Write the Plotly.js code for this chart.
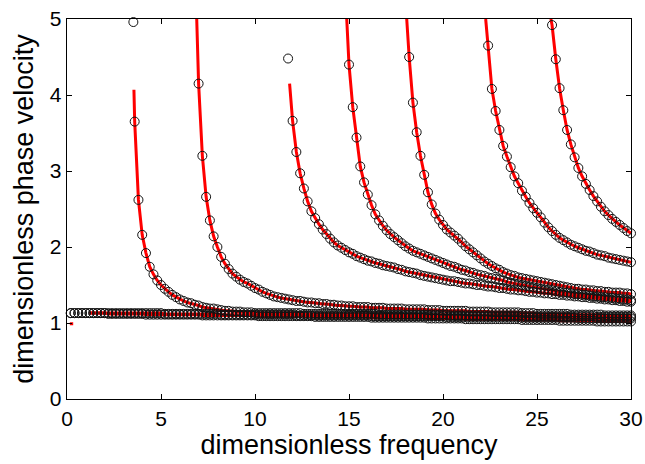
<!DOCTYPE html>
<html><head><meta charset="utf-8">
<script src="https://cdn.plot.ly/plotly-3.0.1.min.js"></script>
<style>html,body{margin:0;padding:0;background:#fff}#chart{width:645px;height:464px}</style>
</head><body><div id="chart"></div>
<script>
// shared frequency grid (dimensionless frequency)
const freq = [
0.2,0.4,0.6,0.8,1.0, 1.2,1.4,1.6,1.8,2.0, 2.2,2.4,2.6,2.8,3.0, 3.2,3.4,3.6,3.8,4.0, 4.2,4.4,4.6,4.8,5.0,
5.2,5.4,5.6,5.8,6.0, 6.2,6.4,6.6,6.8,7.0, 7.2,7.4,7.6,7.8,8.0, 8.2,8.4,8.6,8.8,9.0, 9.2,9.4,9.6,9.8,10.0,
10.2,10.4,10.6,10.8,11.0, 11.2,11.4,11.6,11.8,12.0, 12.2,12.4,12.6,12.8,13.0, 13.2,13.4,13.6,13.8,14.0, 14.2,14.4,14.6,14.8,15.0,
15.2,15.4,15.6,15.8,16.0, 16.2,16.4,16.6,16.8,17.0, 17.2,17.4,17.6,17.8,18.0, 18.2,18.4,18.6,18.8,19.0, 19.2,19.4,19.6,19.8,20.0,
20.2,20.4,20.6,20.8,21.0, 21.2,21.4,21.6,21.8,22.0, 22.2,22.4,22.6,22.8,23.0, 23.2,23.4,23.6,23.8,24.0, 24.2,24.4,24.6,24.8,25.0,
25.2,25.4,25.6,25.8,26.0, 26.2,26.4,26.6,26.8,27.0, 27.2,27.4,27.6,27.8,28.0, 28.2,28.4,28.6,28.8,29.0, 29.2,29.4,29.6,29.8,30.0];

// fundamental branches (start at first grid point)
const baseA = [
1.13,1.13,1.13,1.13,1.13, 1.13,1.13,1.13,1.13,1.13, 1.13,1.13,1.13,1.13,1.13, 1.13,1.13,1.13,1.13,1.13, 1.13,1.13,1.13,1.13,1.13,
1.12,1.12,1.12,1.12,1.12, 1.12,1.12,1.12,1.12,1.12, 1.12,1.12,1.12,1.12,1.12, 1.11,1.11,1.11,1.11,1.11, 1.11,1.11,1.11,1.11,1.11,
1.11,1.11,1.11,1.11,1.11, 1.11,1.11,1.11,1.11,1.11, 1.10,1.10,1.10,1.10,1.10, 1.10,1.10,1.10,1.10,1.10, 1.10,1.10,1.10,1.10,1.10,
1.10,1.10,1.10,1.10,1.10, 1.09,1.09,1.09,1.09,1.09, 1.09,1.09,1.09,1.09,1.09, 1.09,1.09,1.09,1.09,1.09, 1.09,1.09,1.09,1.09,1.09,
1.08,1.08,1.08,1.08,1.08, 1.08,1.08,1.08,1.08,1.08, 1.08,1.08,1.08,1.08,1.08, 1.08,1.08,1.08,1.08,1.08, 1.07,1.07,1.07,1.07,1.07,
1.07,1.07,1.07,1.07,1.07, 1.07,1.07,1.07,1.07,1.07, 1.06,1.06,1.06,1.06,1.06, 1.06,1.06,1.06,1.06,1.06, 1.06,1.06,1.06,1.06,1.06];
const baseB = [
1.13,1.13,1.13,1.13,1.13, 1.13,1.13,1.13,1.13,1.13, 1.12,1.12,1.12,1.12,1.12, 1.12,1.12,1.12,1.12,1.12, 1.11,1.11,1.11,1.11,1.11,
1.11,1.11,1.11,1.11,1.11, 1.11,1.11,1.11,1.11,1.11, 1.10,1.10,1.10,1.10,1.10, 1.10,1.10,1.10,1.10,1.10, 1.10,1.10,1.10,1.10,1.10,
1.09,1.09,1.09,1.09,1.09, 1.09,1.09,1.09,1.09,1.09, 1.09,1.09,1.09,1.09,1.09, 1.08,1.08,1.08,1.08,1.08, 1.08,1.08,1.08,1.08,1.08,
1.08,1.08,1.08,1.08,1.08, 1.07,1.07,1.07,1.07,1.07, 1.07,1.07,1.07,1.07,1.07, 1.07,1.07,1.07,1.07,1.07, 1.06,1.06,1.06,1.06,1.06,
1.06,1.06,1.06,1.06,1.06, 1.05,1.05,1.05,1.05,1.05, 1.05,1.05,1.05,1.05,1.05, 1.05,1.05,1.05,1.05,1.05, 1.04,1.04,1.04,1.04,1.04,
1.04,1.04,1.04,1.04,1.04, 1.03,1.03,1.03,1.03,1.03, 1.03,1.03,1.03,1.03,1.03, 1.02,1.02,1.02,1.02,1.02, 1.02,1.02,1.02,1.02,1.02];
const baseLineStart = 1.2;

// higher modes: first grid frequency and phase velocities
const mode1Start = 3.6;
const mode1 = [3.65,2.62,2.16,
1.92,1.74,1.64,1.56,1.50, 1.45,1.41,1.37,1.34,1.31, 1.29,1.27,1.26,1.24,1.23, 1.21,1.20,1.19,1.19,1.18,
1.17,1.16,1.16,1.15,1.15, 1.15,1.14,1.14,1.14,1.13, 1.13,1.13,1.13,1.13,1.13, 1.13,1.13,1.13,1.13,1.13,
1.13,1.13,1.12,1.12,1.12, 1.12,1.12,1.12,1.12,1.12, 1.12,1.12,1.12,1.12,1.12, 1.12,1.12,1.12,1.12,1.12,
1.12,1.12,1.11,1.11,1.11, 1.11,1.11,1.11,1.11,1.11, 1.11,1.11,1.11,1.11,1.11, 1.11,1.11,1.11,1.11,1.11,
1.11,1.10,1.10,1.10,1.10, 1.10,1.10,1.10,1.10,1.10, 1.10,1.10,1.10,1.10,1.10, 1.10,1.10,1.10,1.10,1.10,
1.10,1.09,1.09,1.09,1.09, 1.09,1.09,1.09,1.09,1.09, 1.09,1.09,1.09,1.09,1.09, 1.09,1.09,1.09,1.09,1.09,
1.08,1.08,1.08,1.08,1.08, 1.08,1.08,1.08,1.08,1.08];

const mode2Start = 7.0;
const mode2 = [4.15,
3.20,2.66,2.35,2.14,2.00, 1.87,1.78,1.71,1.65,1.61, 1.57,1.54,1.52,1.49,1.46, 1.44,1.41,1.39,1.37,1.35,
1.34,1.33,1.32,1.31,1.30, 1.29,1.29,1.28,1.27,1.27, 1.26,1.26,1.25,1.25,1.24, 1.24,1.23,1.23,1.22,1.22,
1.22,1.21,1.21,1.21,1.21, 1.20,1.20,1.20,1.20,1.19, 1.19,1.19,1.19,1.19,1.18, 1.18,1.18,1.18,1.18,1.18,
1.17,1.17,1.17,1.17,1.16, 1.16,1.16,1.16,1.16,1.16, 1.16,1.15,1.15,1.15,1.15, 1.15,1.15,1.14,1.14,1.14,
1.14,1.14,1.14,1.14,1.14, 1.13,1.13,1.13,1.13,1.12, 1.12,1.12,1.12,1.12,1.12, 1.12,1.12,1.12,1.11,1.11,
1.11,1.11,1.11,1.11,1.11, 1.11,1.11,1.10,1.10,1.10, 1.10,1.10,1.10,1.10,1.10];

const mode3Start = 12.0;
const mode3 = [3.66,
3.25,2.97,2.77,2.60,2.47, 2.38,2.30,2.23,2.17,2.11, 2.06,2.02,1.99,1.96,1.93, 1.91,1.88,1.86,1.84,1.82,
1.81,1.79,1.78,1.76,1.75, 1.74,1.73,1.71,1.70,1.68, 1.67,1.66,1.65,1.63,1.62, 1.61,1.60,1.59,1.58,1.57,
1.56,1.55,1.55,1.54,1.53, 1.52,1.52,1.51,1.50,1.50, 1.49,1.48,1.48,1.47,1.46, 1.46,1.45,1.44,1.44,1.43,
1.43,1.42,1.41,1.41,1.40, 1.40,1.39,1.39,1.38,1.38, 1.37,1.37,1.36,1.36,1.35, 1.35,1.34,1.34,1.33,1.33,
1.32,1.32,1.31,1.31,1.30, 1.30,1.29,1.29,1.28,1.28];

const mode4Start = 15.0;
const mode4 = [4.40,
3.84,3.44,3.06,2.85,2.69, 2.55,2.43,2.35,2.28,2.22, 2.17,2.13,2.09,2.05,2.01, 1.98,1.95,1.93,1.91,1.89,
1.87,1.85,1.83,1.81,1.79, 1.77,1.75,1.74,1.72,1.70, 1.69,1.67,1.66,1.64,1.63, 1.62,1.60,1.59,1.58,1.57,
1.56,1.54,1.53,1.52,1.51, 1.50,1.49,1.48,1.47,1.46, 1.45,1.44,1.44,1.43,1.42, 1.41,1.40,1.40,1.39,1.38,
1.38,1.37,1.37,1.36,1.35, 1.35,1.34,1.34,1.33,1.33, 1.32,1.32,1.31,1.31,1.30];

const mode5Start = 18.2;
const mode5 = [
4.50,3.90,3.51,3.20,2.95, 2.72,2.56,2.44,2.36,2.29, 2.23,2.19,2.15,2.11,2.06, 2.01,1.97,1.93,1.89,1.85,
1.81,1.78,1.75,1.72,1.70, 1.67,1.65,1.63,1.62,1.60, 1.59,1.58,1.57,1.56,1.55, 1.54,1.53,1.52,1.51,1.50,
1.49,1.48,1.47,1.46,1.45, 1.45,1.44,1.44,1.43,1.43, 1.42,1.42,1.41,1.41,1.40, 1.40,1.40,1.39,1.39,1.38];

const mode6Start = 22.4;
const mode6 = [4.65,4.08,3.79,3.54,
3.33,3.19,3.05,2.93,2.84, 2.74,2.66,2.58,2.51,2.45, 2.39,2.32,2.26,2.21,2.16, 2.12,2.09,2.06,2.03,2.01,
1.99,1.97,1.95,1.94,1.92, 1.90,1.89,1.88,1.86,1.85, 1.84,1.83,1.82,1.81,1.80];

const mode7Start = 25.8;
const mode7 = [4.92,4.47,
4.09,3.80,3.54,3.35,3.18, 3.04,2.93,2.83,2.75,2.67, 2.60,2.53,2.47,2.42,2.37, 2.33,2.29,2.25,2.21,2.18];

// upper end points of the analytic (red) curves, one per higher mode
const lineTopF = [3.56, 6.90, 11.84, 14.88, 18.07, 22.27, 25.74];
const lineTopV = [4.07, 5.00, 4.15, 5.00, 5.00, 5.00, 5.00];

// isolated numerical points near the cut-offs
const extraF = [3.53, 11.76];
const extraV = [4.96, 4.48];

// short red segment near the origin
const dashF = [0.15, 0.33];
const dashV = [0.99, 0.99];

const xTicks = [0, 5, 10, 15, 20, 25, 30];
const yTicks = [0, 1, 2, 3, 4, 5];

function gridFrom(start, n) {
  const i = freq.findIndex(f => Math.abs(f - start) < 1e-6);
  return freq.slice(i, i + n);
}

const RED = '#ff0000';
const lineStyle = {color: RED, width: 3};
const markStyle = {symbol: 'circle-open', size: 9, color: '#111', line: {width: 1, color: '#111'}};

const lineTraces = [];
const markTraces = [];

[baseA, baseB].forEach(vals => {
  const x = freq.slice(0, vals.length);
  const i0 = x.findIndex(f => f >= baseLineStart - 1e-6);
  lineTraces.push({x: x.slice(i0), y: vals.slice(i0), mode: 'lines', line: lineStyle, hoverinfo: 'skip'});
  markTraces.push({x: x, y: vals, mode: 'markers', marker: markStyle, cliponaxis: false});
});

const modes = [
  [mode1Start, mode1], [mode2Start, mode2], [mode3Start, mode3], [mode4Start, mode4],
  [mode5Start, mode5], [mode6Start, mode6], [mode7Start, mode7]
];
modes.forEach(([start, vals], k) => {
  const x = gridFrom(start, vals.length);
  lineTraces.push({x: [lineTopF[k]].concat(x), y: [lineTopV[k]].concat(vals), mode: 'lines', line: lineStyle});
  markTraces.push({x: x, y: vals, mode: 'markers', marker: markStyle, cliponaxis: false});
});
lineTraces.push({x: dashF, y: dashV, mode: 'lines', line: lineStyle});
markTraces.push({x: extraF, y: extraV, mode: 'markers', marker: markStyle, cliponaxis: false});

const axisCommon = {
  ticks: 'inside', ticklen: 5, tickwidth: 1, tickcolor: '#000',
  showline: true, linecolor: '#000', linewidth: 1.3, mirror: 'ticks',
  showgrid: false, zeroline: false, tickfont: {size: 21, color: '#000'}
};

const layout = {
  width: 645, height: 464,
  margin: {l: 67, r: 14, t: 19, b: 65},
  paper_bgcolor: '#fff', plot_bgcolor: '#fff',
  showlegend: false,
  font: {family: '"Liberation Sans", Arial, sans-serif', color: '#000'},
  xaxis: Object.assign({}, axisCommon, {
    range: [0, 30], tickmode: 'array', tickvals: xTicks, ticktext: xTicks.map(String),
    title: {text: 'dimensionless frequency', font: {size: 27, color: '#000'}, standoff: 5}
  }),
  yaxis: Object.assign({}, axisCommon, {
    range: [0, 5], tickmode: 'array', tickvals: yTicks, ticktext: yTicks.map(String),
    title: {text: 'dimensionless phase velocity', font: {size: 27, color: '#000'}, standoff: 8}
  })
};

Plotly.newPlot('chart', lineTraces.concat(markTraces), layout, {staticPlot: true, displayModeBar: false});
</script>
</body></html>
